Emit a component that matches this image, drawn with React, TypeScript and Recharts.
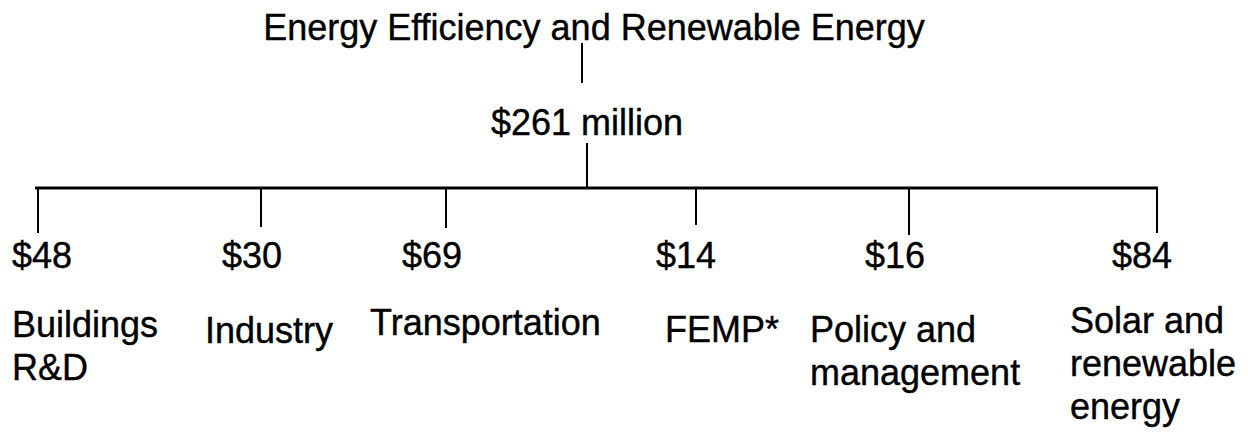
import { ScatterChart, Scatter, XAxis, YAxis, ReferenceLine } from "recharts";

const title = "Energy Efficiency and Renewable Energy";
const total = 261;
const categories = [
  ["Buildings", "R&D"],
  ["Industry"],
  ["Transportation"],
  ["FEMP*"],
  ["Policy and", "management"],
  ["Solar and", "renewable", "energy"],
];
const values = [48, 30, 69, 14, 16, 84];

// layout, in page pixels (axes map 1:1 onto the chart area)
const W = 1248;
const H = 436;
const titlePos = { x: 594, y: 40 };
const totalPos = { x: 587, y: 135 };
const titleLink = { x: 582, top: 43, bottom: 83 };
const totalLink = { x: 587, top: 143 };
const busY = 188;
const branchX = [38, 261, 446, 696, 909, 1157];
const dropEnd = [233, 227, 228, 225, 235, 233];
const valueX = [42, 252, 432, 686, 895, 1142];
const valueY = 268;
const labelX = [12, 205, 370, 665, 810, 1070];
const labelY = [337, 343, 335, 342, 342, 333];
const lineGap = 43;

const FONT = '"Liberation Sans", Arial, Helvetica, sans-serif';

const rootData = [{ ...titlePos, text: title }];
const totalData = [{ ...totalPos, text: `$${total} million` }];
const valueData = values.map((v, i) => ({ x: valueX[i], y: valueY, text: `$${v}` }));
const labelData = categories.map((lines, i) => ({ x: labelX[i], y: labelY[i], lines }));

const textStyle = {
  fontFamily: FONT,
  fontSize: 36,
  fill: "#000",
  stroke: "#000",
  strokeWidth: 0.4,
};

const centerText = (p: any) => (
  <text x={p.cx} y={p.cy} textAnchor="middle" {...textStyle}>
    {p.payload.text}
  </text>
);

const labelText = (p: any) => (
  <text x={p.cx} y={p.cy} textAnchor="start" {...textStyle}>
    {p.payload.lines.map((line: string, k: number) => (
      <tspan key={k} x={p.cx} y={p.cy + k * lineGap}>
        {line}
      </tspan>
    ))}
  </text>
);

export default function App() {
  return (
    <div style={{ position: "absolute", left: 0, top: 0, background: "#fff" }}>
      <ScatterChart width={W} height={H} margin={{ top: 0, right: 0, bottom: 0, left: 0 }}>
        <XAxis type="number" dataKey="x" domain={[0, W]} hide />
        <YAxis type="number" dataKey="y" domain={[0, H]} reversed hide />

        <ReferenceLine
          segment={[
            { x: titleLink.x, y: titleLink.top },
            { x: titleLink.x, y: titleLink.bottom },
          ]}
          stroke="#000"
          strokeWidth={2}
        />
        <ReferenceLine
          segment={[
            { x: totalLink.x, y: totalLink.top },
            { x: totalLink.x, y: busY },
          ]}
          stroke="#000"
          strokeWidth={2}
        />
        <ReferenceLine
          segment={[
            { x: branchX[0] - 3, y: busY },
            { x: branchX[branchX.length - 1] + 1, y: busY },
          ]}
          stroke="#000"
          strokeWidth={3}
        />
        {branchX.map((bx, i) => (
          <ReferenceLine
            key={i}
            segment={[
              { x: bx, y: busY },
              { x: bx, y: dropEnd[i] },
            ]}
            stroke="#000"
            strokeWidth={2}
          />
        ))}

        <Scatter data={rootData} shape={centerText} isAnimationActive={false} />
        <Scatter data={totalData} shape={centerText} isAnimationActive={false} />
        <Scatter data={valueData} shape={centerText} isAnimationActive={false} />
        <Scatter data={labelData} shape={labelText} isAnimationActive={false} />
      </ScatterChart>
    </div>
  );
}
